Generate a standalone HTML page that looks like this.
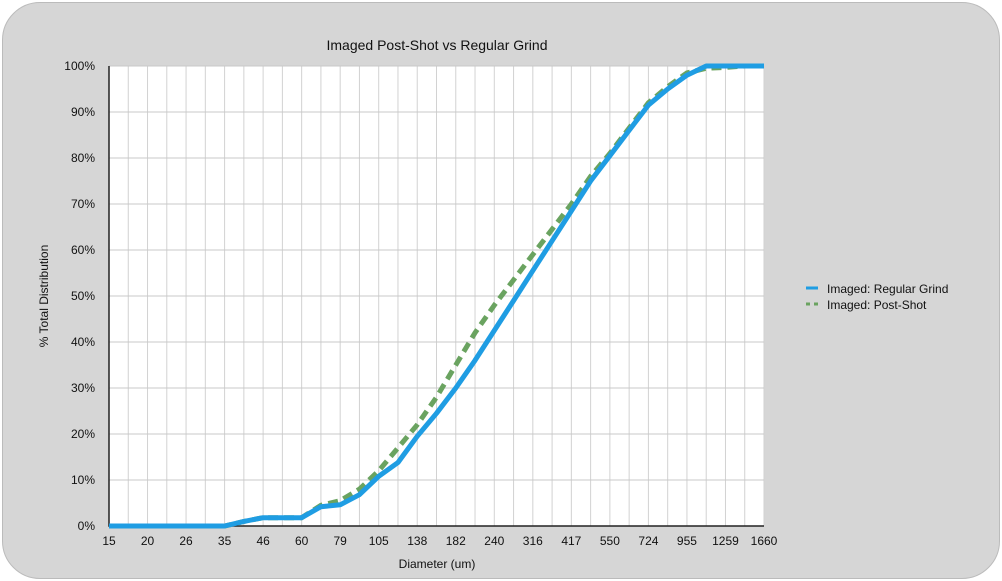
<!DOCTYPE html>
<html><head><meta charset="utf-8"><style>
body{margin:0;background:#fff;width:1002px;height:581px;overflow:hidden;font-family:"Liberation Sans",sans-serif}
#card{position:absolute;left:2px;top:2px;width:996px;height:575px;background:#d6d6d6;border:1px solid #bbb;border-radius:38px}
svg{position:absolute;left:0;top:0}
</style></head><body>
<div id="card"></div>
<svg id="chart" width="1002" height="581"></svg>
<script>
const tickLabels=["15","20","26","35","46","60","79","105","138","182","240","316","417","550","724","955","1259","1660"];
const yTicks=[0,10,20,30,40,50,60,70,80,90,100];
const regular=[0,0,0,0,0,0,0,1,1.8,1.8,1.8,4.2,4.6,6.8,10.8,13.8,19.5,24.5,30,36,42.5,49,55.5,62,68.5,75,80.5,86,91.5,95,98,100,100,100,100];
const postShot=[0,0,0,0,0,0,0,1,1.8,1.8,1.8,4.5,5.5,8,12,17,22,28,35,42,48,53.5,59,64.5,70,76,81,86.5,92,95.5,98.5,99.5,99.7,100,100];
const NS="http://www.w3.org/2000/svg",svg=document.getElementById('chart');
const X0=109,X1=764,Y0=526,Y1=66,N=regular.length;
const x=i=>X0+(X1-X0)*i/(N-1), y=v=>Y0-(Y0-Y1)*v/100;
function mk(t,a,p){const e=document.createElementNS(NS,t);for(const k in a)e.setAttribute(k,a[k]);(p||svg).appendChild(e);return e;}
const bg=mk('rect',{x:X0,y:Y1,width:X1-X0,height:Y0-Y1,fill:'#fff'});


for(let i=0;i<N;i++){const l=mk('line',{x1:x(i),x2:x(i),y1:Y1,y2:Y0,stroke:'#d2d2d2','stroke-width':1});

}
yTicks.forEach(v=>{const l=mk('line',{x1:X0,x2:X1,y1:y(v),y2:y(v),stroke:'#c8c8c8','stroke-width':1});


const t=mk('text',{x:X0-14,y:y(v)+4,'text-anchor':'end','font-size':12,fill:'#111'});t.textContent=v+'%';

});
tickLabels.forEach((s,k)=>{const t=mk('text',{x:x(k*2),y:Y0+19,'text-anchor':'middle','font-size':12,fill:'#111'});t.textContent=s;

});
const ax=mk('path',{d:`M${X0} ${Y1}V${Y0}H${X1}`,fill:'none',stroke:'#222','stroke-width':1.5});


const pts=a=>a.map((v,i)=>(i?'L':'M')+x(i).toFixed(1)+' '+y(v).toFixed(1)).join('');
const g=mk('path',{d:pts(postShot),fill:'none',stroke:'#6aa360','stroke-width':5,'stroke-dasharray':'10 6'});


const b=mk('path',{d:pts(regular),fill:'none',stroke:'#1f9de3','stroke-width':5,'stroke-linejoin':'round'});


function txt(s,a,name){const t=mk('text',a);t.textContent=s;return t;}
txt('Imaged Post-Shot vs Regular Grind',{x:437,y:50,'text-anchor':'middle','font-size':14,fill:'#111'},'chart-title');
txt('Diameter (um)',{x:437,y:568,'text-anchor':'middle','font-size':12,fill:'#111'},'x-axis-title');
txt('% Total Distribution',{x:48,y:296,'text-anchor':'middle','font-size':12,fill:'#111',transform:'rotate(-90 48 296)'},'y-axis-title');
const l1=mk('line',{x1:806,x2:818,y1:288,y2:288,stroke:'#1f9de3','stroke-width':3});


const l2=mk('line',{x1:806,x2:818,y1:304,y2:304,stroke:'#6aa360','stroke-width':3,'stroke-dasharray':'4 4'});


txt('Imaged: Regular Grind',{x:827,y:293,'font-size':12,fill:'#111'},'legend-entry-regular');
txt('Imaged: Post-Shot',{x:827,y:309,'font-size':12,fill:'#111'},'legend-entry-post-shot');
</script>
</body></html>
